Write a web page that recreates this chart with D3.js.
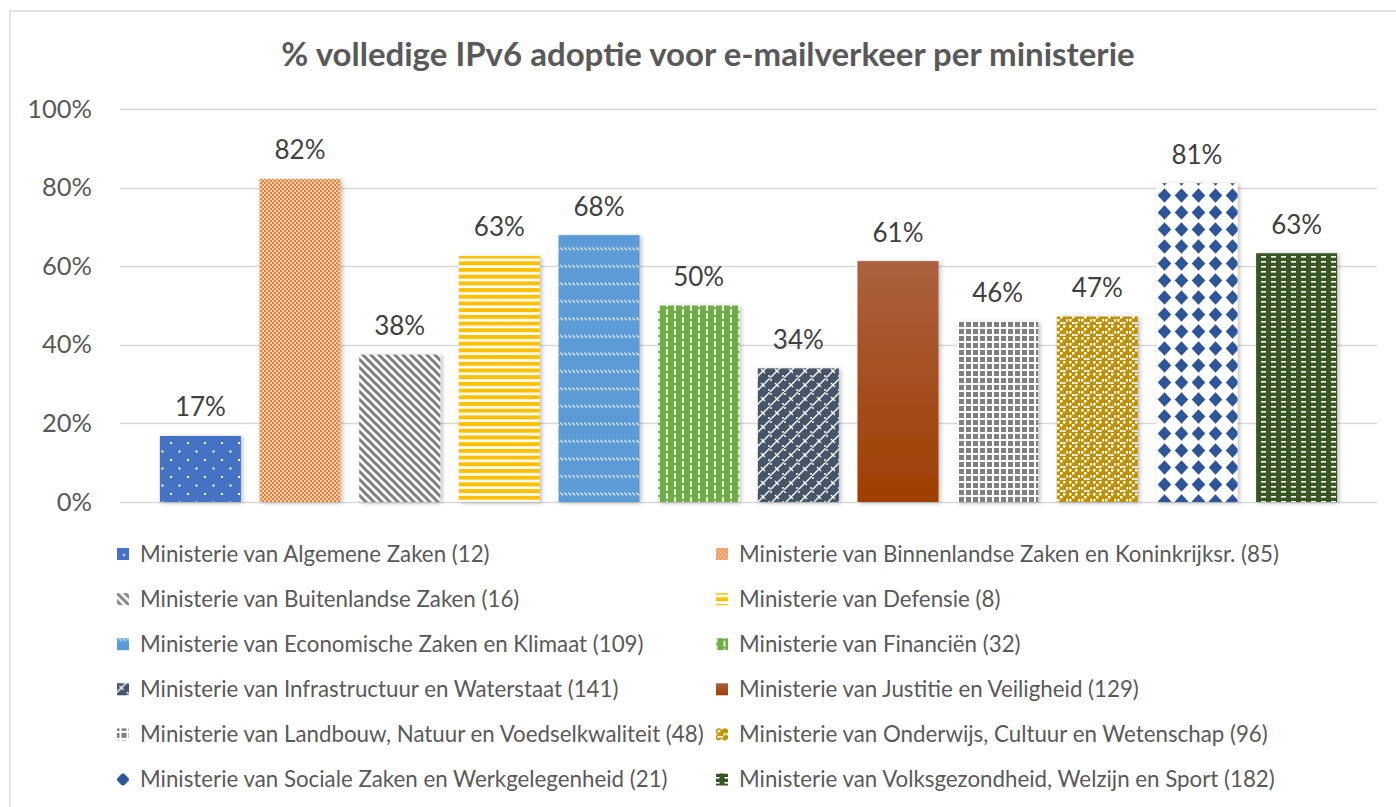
<!DOCTYPE html>
<html>
<head>
<meta charset="utf-8">
<script src="https://cdn.jsdelivr.net/npm/d3@7"></script>
<style>
  body { margin: 0; background: #fff; }
  svg { display: block; font-family: Lato, "Open Sans", sans-serif; }
</style>
</head>
<body>
<div id="chart"></div>
<script>
// ministries in legend order, with the number of domains in brackets
const ministries = [
	"Ministerie van Algemene Zaken (12)",
	"Ministerie van Binnenlandse Zaken en Koninkrijksr. (85)",
	"Ministerie van Buitenlandse Zaken (16)",
	"Ministerie van Defensie (8)",
	"Ministerie van Economische Zaken en Klimaat (109)",
	"Ministerie van Financiën (32)",
	"Ministerie van Infrastructuur en Waterstaat (141)",
	"Ministerie van Justitie en Veiligheid (129)",
	"Ministerie van Landbouw, Natuur en Voedselkwaliteit (48)",
	"Ministerie van Onderwijs, Cultuur en Wetenschap (96)",
	"Ministerie van Sociale Zaken en Werkgelegenheid (21)",
	"Ministerie van Volksgezondheid, Welzijn en Sport (182)",
];

// share of domains with full IPv6 for mail
const adoption = [0.168, 0.822, 0.375, 0.626, 0.679, 0.5, 0.34, 0.613, 0.459, 0.472, 0.811, 0.633];

const yTicks = [0, 0.2, 0.4, 0.6, 0.8, 1];

const width = 1396;
const height = 807;

const svg = d3
	.select("#chart")
	.append("svg")
	.attr("width", width)
	.attr("height", height);

const defs = svg.append("defs");

// Excel like soft shadow on the bars
defs
	.append("filter")
	.attr("id", "shadow")
	.attr("x", "-10%")
	.attr("y", "-10%")
	.attr("width", "130%")
	.attr("height", "130%")
	.append("feDropShadow")
	.attr("dx", 2)
	.attr("dy", 1)
	.attr("stdDeviation", 2)
	.attr("flood-color", "#000")
	.attr("flood-opacity", 0.25);

// helper for a tile pattern
function pattern(id, w, h, bg) {
	const p = defs
		.append("pattern")
		.attr("id", id)
		.attr("patternUnits", "userSpaceOnUse")
		.attr("width", w)
		.attr("height", h);
	p.append("rect").attr("width", w).attr("height", h).attr("fill", bg);
	return p;
}

// 1 - blue with small white dots
let p = pattern("p0", 17, 17, "#4472c4");
p.append("rect").attr("x", 0).attr("y", 0).attr("width", 2).attr("height", 2).attr("fill", "#fff");
p.append("rect").attr("x", 8.5).attr("y", 8.5).attr("width", 2).attr("height", 2).attr("fill", "#fff");

// 2 - orange fine checker
p = pattern("p1", 4, 4, "#ed7d31");
p.append("rect").attr("x", 0).attr("y", 0).attr("width", 2).attr("height", 2).attr("fill", "#fbd3b8");
p.append("rect").attr("x", 2).attr("y", 2).attr("width", 2).attr("height", 2).attr("fill", "#fbd3b8");

// 3 - gray wide downward diagonal
p = pattern("p2", 8, 8, "#fff");
p.append("path")
	.attr("d", "M-2,-2L10,10M-2,6L2,10M6,-2L10,2")
	.attr("stroke", "#7f7f7f")
	.attr("stroke-width", 3);

// 4 - yellow horizontal stripes
p = pattern("p3", 8, 6.7, "#fff");
p.append("rect").attr("width", 8).attr("height", 4).attr("fill", "#ffc000");

// 5 - light blue with rows of small diagonal dashes
p = pattern("p4", 4, 17.5, "#5b9bd5");
p.append("path")
	.attr("d", "M0.3,2.5L3,5.2")
	.attr("stroke", "#fff")
	.attr("stroke-width", 1.1);

// 6 - green with vertical dashes
p = pattern("p5", 16, 16, "#70ad47");
p.append("path")
	.attr("d", "M3,1V7M3,9V15M11,-3V3M11,5V11M11,13V19")
	.attr("stroke", "#fff")
	.attr("stroke-width", 1.6);

// 7 - dark slate with white trellis
p = pattern("p6", 14, 14, "#44546a");
p.append("path")
	.attr("d", "M-2,16L16,-2M5,5L9,9M-2,2L2,2M12,12L16,12")
	.attr("stroke", "#fff")
	.attr("stroke-width", 1.4)
	.attr("fill", "none");

// 8 - brown gradient
const grad = defs
	.append("linearGradient")
	.attr("id", "p7")
	.attr("x1", 0)
	.attr("y1", 0)
	.attr("x2", 0)
	.attr("y2", 1);
grad.append("stop").attr("offset", "0%").attr("stop-color", "#ab6040");
grad.append("stop").attr("offset", "100%").attr("stop-color", "#9e3f00");

// 9 - gray small grid
p = pattern("p8", 7, 7, "#fff");
p.append("rect").attr("x", 0).attr("y", 0).attr("width", 5).attr("height", 5).attr("fill", "#7f7f7f");

// 10 - gold with white small squares
p = pattern("p9", 12, 12, "#bf9000");
[[1, 1], [7, 1], [4, 4], [10, 7], [1, 7], [7, 10], [4, 10]].forEach(([x, y]) => {
	p.append("rect").attr("x", x).attr("y", y).attr("width", 2.5).attr("height", 2.5).attr("fill", "#fff");
});

// 11 - white with dark blue diamonds
p = pattern("p10", 17, 17, "#fff");
p.append("path").attr("d", "M8.5,1.2L15.3,8.5L8.5,15.8L1.7,8.5Z").attr("fill", "#2f5597");

// 12 - dark green with white dashes
p = pattern("p11", 10, 5, "#375623");
p.append("rect").attr("x", 1).attr("y", 1).attr("width", 5).attr("height", 1.6).attr("fill", "#fff");

const fills = ministries.map((d, i) => `url(#p${i})`);

// chart border
svg
	.append("path")
	.attr("d", `M10,${height}V11H${width}`)
	.attr("fill", "none")
	.attr("stroke", "#d9d9d9")
	.attr("stroke-width", 1.5);

// scales
const x = d3
	.scaleBand()
	.domain(d3.range(ministries.length))
	.range([120, 1377])
	.paddingInner(0.187)
	.paddingOuter(0.4);

const y = d3.scaleLinear().domain([0, 1]).range([502, 109]);

// gridlines
svg
	.append("g")
	.selectAll("line")
	.data(yTicks)
	.enter()
	.append("line")
	.attr("x1", 120)
	.attr("x2", 1377)
	.attr("y1", (d) => Math.round(y(d)) + 0.5)
	.attr("y2", (d) => Math.round(y(d)) + 0.5)
	.attr("stroke", "#d9d9d9")
	.attr("stroke-width", 1.3);

// y axis labels
const yAxis = svg
	.append("g")
	.attr("transform", "translate(120,0)")
	.call(
		d3
			.axisLeft(y)
			.tickValues(yTicks)
			.tickFormat(d3.format(".0%"))
			.tickSize(0)
			.tickPadding(28)
	);
yAxis.select(".domain").remove();
yAxis
	.selectAll("text")
	.attr("fill", "#595959")
	.style("font-size", "25.5px")
	.style("font-family", "Lato, sans-serif");

// bars
svg
	.append("g")
	.selectAll("rect")
	.data(adoption)
	.enter()
	.append("rect")
	.attr("x", (d, i) => x(i))
	.attr("y", (d) => y(d))
	.attr("width", x.bandwidth())
	.attr("height", (d) => y(0) - y(d))
	.attr("fill", (d, i) => fills[i])
	.attr("filter", "url(#shadow)");

// value labels
svg
	.append("g")
	.selectAll("text")
	.data(adoption)
	.enter()
	.append("text")
	.attr("x", (d, i) => x(i) + x.bandwidth() / 2)
	.attr("y", (d) => y(d) - 19.5)
	.attr("text-anchor", "middle")
	.attr("fill", "#404040")
	.style("font-size", "26px")
	.text((d) => d3.format(".0%")(d));

// title
svg
	.append("text")
	.attr("x", 708)
	.attr("y", 66)
	.attr("text-anchor", "middle")
	.attr("fill", "#595959")
	.style("font-size", "33px")
	.style("font-weight", "bold")
	.text("% volledige IPv6 adoptie voor e-mailverkeer per ministerie");

// legend, two columns
// group origin sits 2.5px left / 8.5px above the marker so the pattern tiles
// land roughly centred in the little swatch (e.g. one whole diamond)
const legend = svg
	.append("g")
	.selectAll("g")
	.data(ministries)
	.enter()
	.append("g")
	.attr(
		"transform",
		(d, i) => `translate(${(i % 2 ? 716 : 117) - 2.5}, ${554 + Math.floor(i / 2) * 45.1 - 8.5})`
	);

legend
	.append("rect")
	.attr("x", 2.5)
	.attr("y", 2.5)
	.attr("width", 12)
	.attr("height", 12)
	.attr("fill", (d, i) => fills[i]);

legend
	.append("text")
	.attr("x", 25.5)
	.attr("y", 8.5)
	.attr("dy", "0.35em")
	.attr("fill", "#595959")
	.style("font-size", "22.3px")
	.text((d) => d);
</script>
</body>
</html>
